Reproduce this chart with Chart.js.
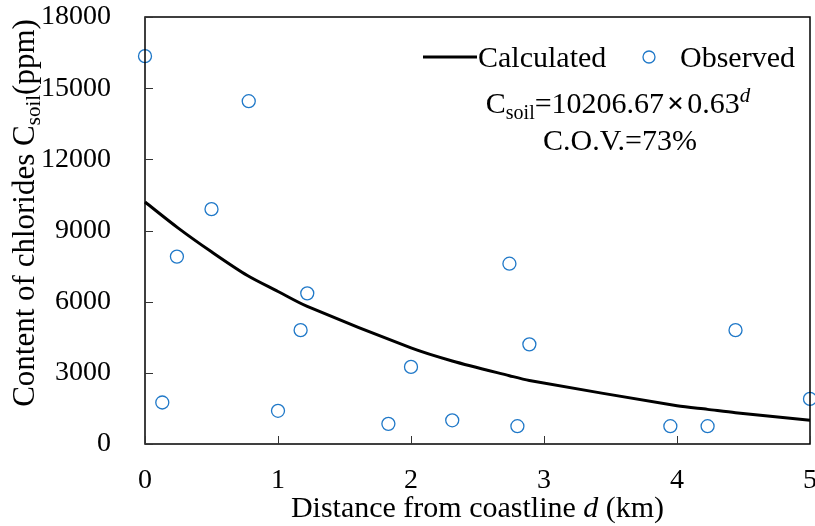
<!DOCTYPE html>
<html>
<head>
<meta charset="utf-8">
<script src="https://cdn.jsdelivr.net/npm/chart.js@4.4.0/dist/chart.umd.min.js"></script>
<style>
  html, body { margin: 0; padding: 0; background: #fff; }
  #wrap { width: 815px; height: 526px; }
</style>
</head>
<body>
<div id="wrap"><canvas id="soilChart" width="815" height="526"></canvas></div>
<script>
// observed chloride content vs distance
var obsDist = [0, 0.13, 0.24, 0.5, 0.78, 1.0, 1.17, 1.22, 1.83, 2.0, 2.31, 2.74, 2.8, 2.89, 3.95, 4.23, 4.44, 5.0];
var obsCl   = [16350, 1750, 7900, 9900, 14450, 1400, 4800, 6350, 850, 3250, 1000, 7600, 750, 4200, 750, 750, 4800, 1900];

// calculated curve
var calcDist = [0, 0.25, 0.5, 0.77, 1.0, 1.22, 2.0, 2.31, 2.74, 2.89, 4.0, 4.23, 4.44, 5.0];
var calcCl   = [10200, 9100, 8100, 7100, 6430, 5800, 4050, 3500, 2880, 2680, 1610, 1460, 1320, 1000];

var xTicks = [0, 1, 2, 3, 4, 5];
var yTicks = [0, 3000, 6000, 9000, 12000, 15000, 18000];

var FONT = '"Liberation Serif", "Times New Roman", serif';
var BLUE = '#1f78c8';

function toPoints(xs, ys) {
    var pts = [];
    for (var i = 0; i < xs.length; i++) pts.push({ x: xs[i], y: ys[i] });
    return pts;
}

// draws text pieces in a row: [text, font, dy, gapAfter]
function drawRow(ctx, parts, x, y) {
    var total = 0;
    parts.forEach(function (p) { ctx.font = p[1]; p.w = ctx.measureText(p[0]).width; total += p.w + (p[3] || 0); });
    var cx = x - total / 2;
    parts.forEach(function (p) {
        ctx.font = p[1];
        ctx.fillText(p[0], cx, y + (p[2] || 0));
        cx += p.w + (p[3] || 0);
    });
}

// no extra room for the labels at the ends of an axis
function noOverhang(s) {
    s.paddingLeft = s.paddingRight = s.paddingTop = s.paddingBottom = 0;
}

// inward ticks, box frame, axis titles, legend and formula
var decorations = {
    id: 'decorations',
    afterDraw: function (chart) {
        var ctx = chart.ctx;
        var a = chart.chartArea;
        var xs = chart.scales.x, ys = chart.scales.y;
        ctx.save();
        ctx.strokeStyle = '#000';
        ctx.lineWidth = 1.5;
        ctx.strokeRect(a.left, a.top, a.right - a.left, a.bottom - a.top);

        ctx.lineWidth = 1;
        ctx.strokeStyle = '#333';
        ctx.beginPath();
        xTicks.forEach(function (v) {
            var px = Math.round(xs.getPixelForValue(v)) + 0.5;
            ctx.moveTo(px, a.bottom);
            ctx.lineTo(px, a.bottom - 8);
        });
        yTicks.forEach(function (v) {
            var py = Math.round(ys.getPixelForValue(v)) + 0.5;
            ctx.moveTo(a.left, py);
            ctx.lineTo(a.left + 8, py);
        });
        ctx.stroke();

        ctx.fillStyle = '#000';
        ctx.textBaseline = 'alphabetic';
        ctx.textAlign = 'left';

        var big = '30px ' + FONT, sub = '20px ' + FONT;

        // x title
        drawRow(ctx, [
            ['Distance from coastline ', big],
            ['d', 'italic ' + big],
            [' (km)', big]
        ], (a.left + a.right) / 2, 517);

        // y title (rotated, with subscript)
        ctx.save();
        ctx.translate(34, 213);
        ctx.rotate(-Math.PI / 2);
        drawRow(ctx, [
            ['Content of chlorides C', '31px ' + FONT],
            ['soil', '21px ' + FONT, 6],
            ['(ppm)', '31px ' + FONT]
        ], 0, 0);
        ctx.restore();

        // legend
        ctx.lineWidth = 3;
        ctx.strokeStyle = '#000';
        ctx.beginPath();
        ctx.moveTo(423, 57);
        ctx.lineTo(477, 57);
        ctx.stroke();
        ctx.font = big;
        ctx.fillText('Calculated', 478, 67);
        ctx.lineWidth = 1.3;
        ctx.strokeStyle = BLUE;
        ctx.beginPath();
        ctx.arc(649, 57, 6, 0, Math.PI * 2);
        ctx.stroke();
        ctx.fillText('Observed', 680, 67);

        // formula
        drawRow(ctx, [
            ['C', big],
            ['soil', sub, 6],
            ['=10206.67', big, 0, 3],
            ['\u00d7', 'bold ' + big, 0, 3],
            ['0.63', big],
            ['d', 'italic 21px ' + FONT, -11]
        ], 618, 113);

        ctx.font = big;
        ctx.textAlign = 'center';
        ctx.fillText('C.O.V.=73%', 620, 150);
        ctx.restore();
    }
};

var ctx = document.getElementById('soilChart');
var soilChart = new Chart(ctx, {
    type: 'scatter',
    data: {
        datasets: [{
            label: 'Calculated',
            type: 'line',
            data: toPoints(calcDist, calcCl),
            borderColor: '#000',
            borderWidth: 3,
            pointRadius: 0,
            fill: false,
            tension: 0.3,
            order: 2
        }, {
            label: 'Observed',
            data: toPoints(obsDist, obsCl),
            borderColor: BLUE,
            backgroundColor: 'rgba(255,255,255,0)',
            borderWidth: 1.3,
            pointRadius: 6.5,
            pointHoverRadius: 6.5,
            order: 1
        }]
    },
    options: {
        responsive: false,
        animation: false,
        clip: false,
        layout: { autoPadding: false, padding: { top: 17, right: 5, left: 0, bottom: 0 } },
        plugins: {
            legend: { display: false },
            tooltip: { enabled: false }
        },
        scales: {
            x: {
                type: 'linear',
                min: 0, max: 5,
                afterFit: function (s) { s.height = 82; noOverhang(s); },
                afterBuildTicks: function (s) { s.ticks = xTicks.map(function (v) { return { value: v }; }); },
                grid: { display: false },
                border: { display: false },
                ticks: {
                    color: '#000',
                    padding: 12,
                    font: { family: FONT, size: 28 },
                    callback: function (v) { return String(v); }
                }
            },
            y: {
                min: 0, max: 18000,
                afterFit: function (s) { s.width = 145; noOverhang(s); },
                afterBuildTicks: function (s) { s.ticks = yTicks.map(function (v) { return { value: v }; }); },
                grid: { display: false },
                border: { display: false },
                ticks: {
                    color: '#000',
                    padding: 26,
                    font: { family: FONT, size: 28 },
                    callback: function (v) { return String(v); }
                }
            }
        }
    },
    plugins: [decorations]
});
</script>
</body>
</html>
